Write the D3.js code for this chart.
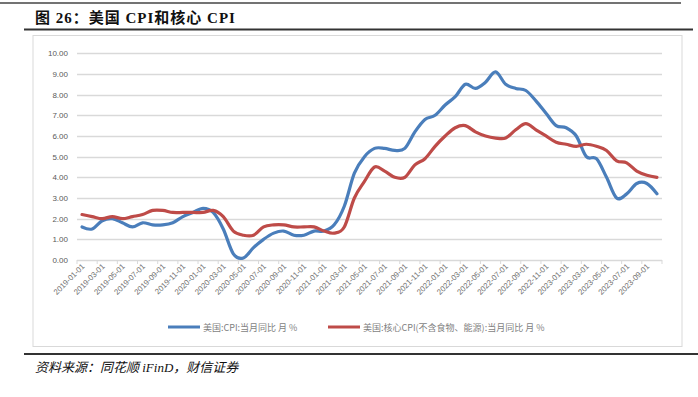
<!DOCTYPE html>
<html><head><meta charset="utf-8">
<script src="https://cdn.jsdelivr.net/npm/d3@7"></script>
<style>body{margin:0;background:#fff}svg{display:block}</style>
</head><body>
<svg id="c" width="698" height="397"></svg>
<script>
const months = (() => { const a=[]; for(let y=2019;y<=2023;y++){for(let m=1;m<=12;m++){ if(y===2023&&m>10)break; a.push(`${y}-${String(m).padStart(2,'0')}-01`);} } return a; })();
const cpi = [1.6,1.5,1.9,2.0,1.8,1.6,1.8,1.7,1.7,1.8,2.1,2.3,
             2.5,2.3,1.5,0.3,0.1,0.6,1.0,1.3,1.4,1.2,1.2,1.4,
             1.4,1.7,2.6,4.2,5.0,5.4,5.4,5.3,5.4,6.2,6.8,7.0,
             7.5,7.9,8.5,8.3,8.6,9.1,8.5,8.3,8.2,7.7,7.1,6.5,
             6.4,6.0,5.0,4.9,4.0,3.0,3.2,3.7,3.7,3.2];
const core = [2.2,2.1,2.0,2.1,2.0,2.1,2.2,2.4,2.4,2.3,2.3,2.3,
              2.3,2.4,2.1,1.4,1.2,1.2,1.6,1.7,1.7,1.6,1.6,1.6,
              1.4,1.3,1.6,3.0,3.8,4.5,4.3,4.0,4.0,4.6,4.9,5.5,
              6.0,6.4,6.5,6.2,6.0,5.9,5.9,6.3,6.6,6.3,6.0,5.7,
              5.6,5.5,5.6,5.5,5.3,4.8,4.7,4.3,4.1,4.0];
const yTicks = [0,1,2,3,4,5,6,7,8,9,10];
const seriesNames = ["美国:CPI:当月同比 月 %","美国:核心CPI(不含食物、能源):当月同比 月 %"];
const colors = ["#4a7ebb","#be4b48"];

const svg = d3.select("#c");
// decorative rules
svg.append("line").attr("x1",0).attr("x2",681).attr("y1",3).attr("y2",3).attr("stroke","#444").attr("stroke-width",1.5);
svg.append("text").attr("x",35).attr("y",23).attr("font-family","'Liberation Serif', 'Noto Sans CJK SC', serif").attr("font-weight","bold").attr("font-size",15).attr("letter-spacing",1).attr("fill","#111").text("图 26：美国 CPI和核心 CPI");
svg.append("line").attr("x1",24).attr("x2",693).attr("y1",29.5).attr("y2",29.5).attr("stroke","#333").attr("stroke-width",2);
svg.append("rect").attr("x",33).attr("y",35.5).attr("width",649).attr("height",311).attr("fill","#fff").attr("stroke","#d9d9d9").attr("stroke-width",1);
svg.append("line").attr("x1",24).attr("x2",698).attr("y1",354).attr("y2",354).attr("stroke","#333").attr("stroke-width",2);
svg.append("text").attr("x",35).attr("y",372).attr("font-family","'Liberation Serif', 'Noto Sans CJK SC', serif").attr("font-style","italic").attr("font-size",13).attr("fill","#111").text("资料来源：同花顺 iFinD，财信证券");

const x = d3.scaleBand().domain(months).range([77,662]).padding(0);
const y = d3.scaleLinear().domain([0,10]).range([260,53.3]);

// gridlines
svg.append("g").selectAll("line").data(yTicks).join("line")
  .attr("x1",77).attr("x2",662).attr("y1",d=>Math.round(y(d))+0.5).attr("y2",d=>Math.round(y(d))+0.5)
  .attr("stroke","#d9d9d9").attr("stroke-width",1.3);
// y labels
svg.append("g").selectAll("text").data(yTicks).join("text")
  .attr("x",68).attr("y",d=>y(d)+3).attr("text-anchor","end")
  .attr("font-family","'Liberation Sans', Arial, sans-serif").attr("font-size",8).attr("fill","#595959")
  .text(d=>d.toFixed(2));
// x tick marks every 2 categories at band boundaries
const tickIdx = d3.range(0, months.length+1, 2);
svg.append("g").selectAll("line").data(tickIdx).join("line")
  .attr("x1",i=>77+i*x.bandwidth()).attr("x2",i=>77+i*x.bandwidth())
  .attr("y1",260).attr("y2",264).attr("stroke","#d9d9d9").attr("stroke-width",1);
// x labels
const labelMonths = months.filter((d,i)=>i%2===0);
svg.append("g").selectAll("text").data(labelMonths).join("text")
  .attr("transform",d=>`translate(${x(d)+x.bandwidth()/2+3},${267}) rotate(-45)`)
  .attr("text-anchor","end")
  .attr("font-family","'Liberation Sans', Arial, sans-serif").attr("font-size",7.8).attr("fill","#6f6f6f")
  .text(d=>d);

const line = d3.line().x((d,i)=>x(months[i])+x.bandwidth()/2).y(d=>y(d)).curve(d3.curveCatmullRom.alpha(0));
[cpi, core].forEach((s,k)=>{
  svg.append("path").attr("d",line(s)).attr("fill","none").attr("stroke",colors[k]).attr("stroke-width",3.2).attr("stroke-linejoin","round").attr("stroke-linecap","round");
});

// legend
const lg = [{x0:168,tx:203},{x0:328,tx:363}];
lg.forEach((p,k)=>{
  svg.append("line").attr("x1",p.x0).attr("x2",p.x0+32).attr("y1",327).attr("y2",327).attr("stroke",colors[k]).attr("stroke-width",3);
  svg.append("text").attr("x",p.tx).attr("y",330.5).attr("font-family","'Noto Sans CJK SC', sans-serif").attr("font-size",9).attr("fill","#7f7f7f").text(seriesNames[k]);
});
</script>
</body></html>
